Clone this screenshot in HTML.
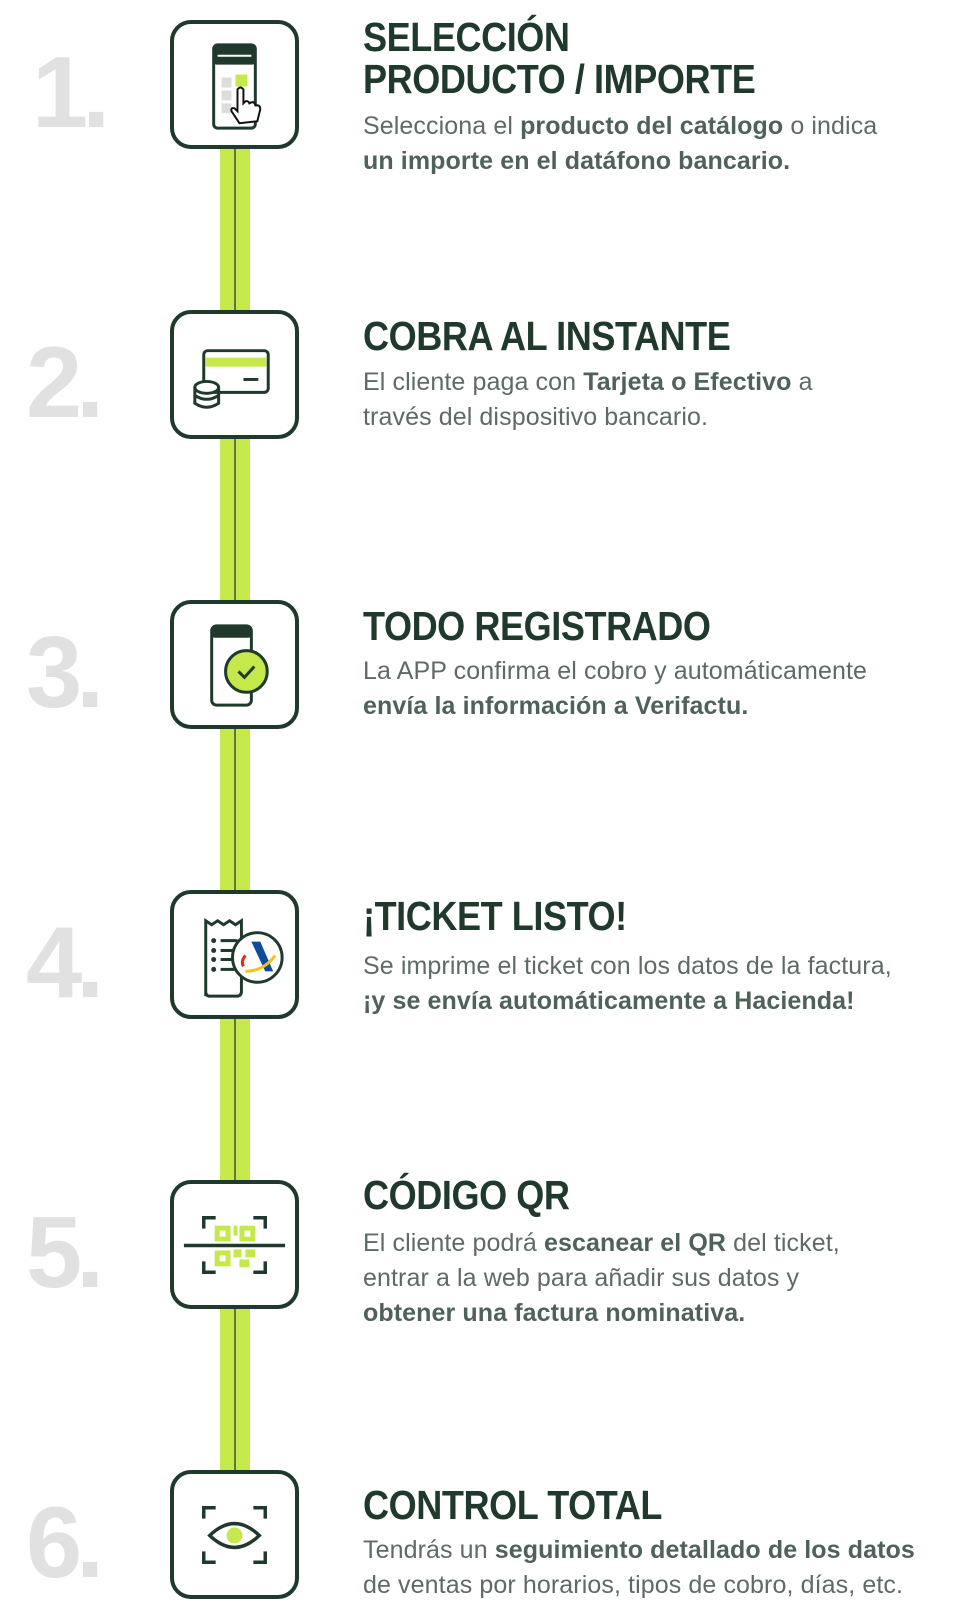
<!DOCTYPE html>
<html><head><meta charset="utf-8"><style>
body{margin:0;width:958px;height:1616px;background:#fff;position:relative;overflow:hidden;font-family:"Liberation Sans",sans-serif}
.bar{position:absolute;left:220px;width:30px;background:#c5e84a}
.bar:after{content:"";position:absolute;left:14px;top:0;bottom:0;width:2px;background:#5d7a3c}
.box{position:absolute;left:170px;width:121px;height:121px;border:4px solid #1f3a2c;border-radius:21px;background:#fff}
.box svg{position:absolute;left:0;top:0}
.num{position:absolute;left:26px;font-weight:bold;font-size:101px;color:#e0e1e0;letter-spacing:-6px;line-height:1}
.t{position:absolute;left:363px;font-weight:bold;font-size:41px;color:#1f3a2c;line-height:42px;transform:scaleX(.88);transform-origin:left;white-space:nowrap;letter-spacing:-.5px}
.d{position:absolute;left:363px;font-size:25px;color:#5e6b64;line-height:35px;white-space:nowrap;letter-spacing:.1px}
.d b{color:#4f6259}
</style></head><body>
<div class="bar" style="top:145px;height:1330px"></div>

<div class="num" style="top:43px;left:32px">1.</div>
<div class="num" style="top:333px">2.</div>
<div class="num" style="top:623px">3.</div>
<div class="num" style="top:913px">4.</div>
<div class="num" style="top:1203px">5.</div>
<div class="num" style="top:1493px">6.</div>

<div class="box" style="top:20px"><svg width="121" height="121" viewBox="0 0 122 122">
<rect x="40" y="21" width="42" height="84" rx="4" fill="#fff" stroke="#1f3a2c" stroke-width="3"/>
<rect x="40" y="21" width="42" height="20" rx="3" fill="#1f3a2c"/>
<line x1="44" y1="32" x2="78" y2="32" stroke="#fff" stroke-width="2"/>
<rect x="48" y="54" width="10" height="10" fill="#ddd"/><rect x="48" y="67" width="10" height="10" fill="#ddd"/><rect x="48" y="80" width="10" height="10" fill="#ddd"/>
<rect x="62" y="51" width="12" height="12" fill="#c5e84a"/>
<path d="M66 100 L58 88 Q57 84 61 85 L64 88 L64 66 Q67 62 70 66 L70 80 L72 78 Q75 77 76 80 L78 79 Q81 78 82 82 L84 82 Q87 82 87 86 L84 98 Z" fill="#fff" stroke="#111" stroke-width="2"/>
</svg></div>
<div class="t" style="top:16px">SELECCIÓN<br>PRODUCTO / IMPORTE</div>
<div class="d" style="top:109px">Selecciona el <b>producto del catálogo</b> o indica<br><b>un importe en el datáfono bancario.</b></div>

<div class="box" style="top:310px"><svg width="121" height="121" viewBox="0 0 122 122">
<rect x="30" y="37" width="65" height="42" rx="4" fill="#fff" stroke="#1f3a2c" stroke-width="3"/>
<rect x="32" y="44" width="61" height="9" fill="#c5e84a"/>
<line x1="70" y1="66" x2="85" y2="66" stroke="#1f3a2c" stroke-width="3"/>
<ellipse cx="33" cy="74" rx="12" ry="6" fill="#fff" stroke="#1f3a2c" stroke-width="3"/>
<path d="M21 74 V90 Q33 98 45 90 V74 M21 82 Q33 90 45 82" fill="none" stroke="#1f3a2c" stroke-width="3"/>
</svg></div>
<div class="t" style="top:315px">COBRA AL INSTANTE</div>
<div class="d" style="top:365px">El cliente paga con <b>Tarjeta o Efectivo</b> a<br>través del dispositivo bancario.</div>

<div class="box" style="top:600px"><svg width="121" height="121" viewBox="0 0 122 122">
<rect x="38" y="22" width="40" height="80" rx="5" fill="#fff" stroke="#1f3a2c" stroke-width="3"/>
<rect x="38" y="22" width="40" height="12" rx="3" fill="#1f3a2c"/>
<circle cx="73" cy="68" r="21" fill="#c5e84a" stroke="#1f3a2c" stroke-width="3"/>
<path d="M65 68 L71 74 L81 63" fill="none" stroke="#1f3a2c" stroke-width="3"/>
</svg></div>
<div class="t" style="top:605px">TODO REGISTRADO</div>
<div class="d" style="top:654px">La APP confirma el cobro y automáticamente<br><b>envía la información a Verifactu.</b></div>

<div class="box" style="top:890px"><svg width="121" height="121" viewBox="0 0 122 122">
<path d="M32 103 V27 L38 31 L44 27 L50 31 L56 27 L62 31 L68 27 V98 Q68 103 63 103 H36 Q32 103 32 98Z" fill="#fff" stroke="#1f3a2c" stroke-width="3"/>
<circle cx="40" cy="47" r="2.5" fill="#1f3a2c"/><circle cx="40" cy="57" r="2.5" fill="#1f3a2c"/><circle cx="40" cy="66" r="2.5" fill="#1f3a2c"/><circle cx="40" cy="76" r="2.5" fill="#1f3a2c"/>
<path d="M47 47H64M47 57H64M47 66H64M47 76H64" stroke="#1f3a2c" stroke-width="3"/>
<circle cx="84" cy="64" r="25" fill="#fff" stroke="#1f3a2c" stroke-width="3"/>
<path d="M78 48 H87 L100 78 H92 Z" fill="#0b4c9c"/>
<path d="M72 78 Q90 78 102 62" fill="none" stroke="#f3c21c" stroke-width="3"/>
<path d="M72 62 Q67 68 70 73" fill="none" stroke="#d92c1c" stroke-width="3"/>
</svg></div>
<div class="t" style="top:895px">¡TICKET LISTO!</div>
<div class="d" style="top:949px">Se imprime el ticket con los datos de la factura,<br><b>¡y se envía automáticamente a Hacienda!</b></div>

<div class="box" style="top:1180px"><svg width="121" height="121" viewBox="0 0 122 122">
<path d="M30 45 V34 H42 M80 34 H92 V45 M30 78 V89 H42 M80 89 H92 V78" fill="none" stroke="#1f3a2c" stroke-width="3.5"/>
<g fill="#c5e84a"><rect x="41" y="42" width="16" height="16"/><rect x="66" y="42" width="16" height="16"/><rect x="41" y="67" width="16" height="16"/><rect x="60" y="42" width="4" height="10"/><rect x="60" y="66" width="8" height="8"/><rect x="72" y="66" width="10" height="8"/><rect x="66" y="76" width="10" height="8"/></g>
<g fill="#fff"><rect x="46" y="47" width="6" height="6"/><rect x="71" y="47" width="6" height="6"/><rect x="46" y="72" width="6" height="6"/></g>
<line x1="10" y1="62" x2="112" y2="62" stroke="#1f3a2c" stroke-width="3.5"/>
</svg></div>
<div class="t" style="top:1174px">CÓDIGO QR</div>
<div class="d" style="top:1226px">El cliente podrá <b>escanear el QR</b> del ticket,<br>entrar a la web para añadir sus datos y<br><b>obtener una factura nominativa.</b></div>

<div class="box" style="top:1470px"><svg width="121" height="121" viewBox="0 0 122 122">
<path d="M30 45 V34 H42 M80 34 H92 V45 M30 78 V89 H42 M80 89 H92 V78" fill="none" stroke="#1f3a2c" stroke-width="3.5"/>
<path d="M36 62 Q61 38 86 62 Q61 86 36 62Z" fill="#fff" stroke="#1f3a2c" stroke-width="3.5"/>
<circle cx="61" cy="62" r="8" fill="#c5e84a"/>
</svg></div>
<div class="t" style="top:1484px">CONTROL TOTAL</div>
<div class="d" style="top:1533px">Tendrás un <b>seguimiento detallado de los datos</b><br>de ventas por horarios, tipos de cobro, días, etc.</div>
</body></html>
